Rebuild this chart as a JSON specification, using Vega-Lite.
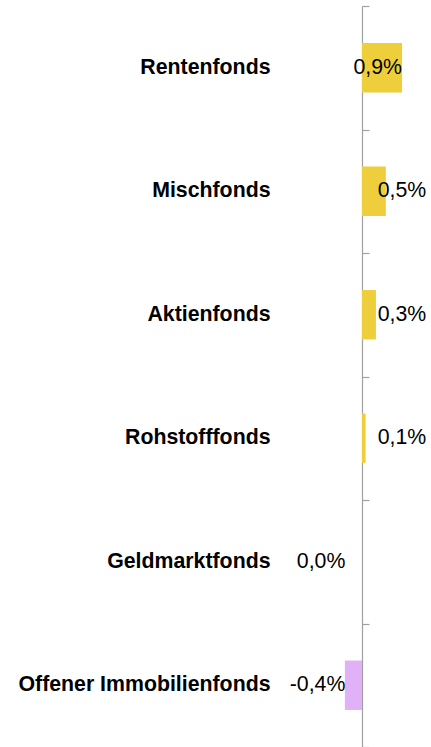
{
  "$schema": "https://vega.github.io/schema/vega-lite/v6.json",
  "autosize": {"type": "none"},
  "padding": {"left": 280, "top": 6, "right": 0, "bottom": 0},
  "width": 151,
  "height": 741,
  "background": "white",
  "data": {
    "values": [
      {"fonds": "Rentenfonds", "value": 0.0089},
      {"fonds": "Mischfonds", "value": 0.0053},
      {"fonds": "Aktienfonds", "value": 0.0031},
      {"fonds": "Rohstofffonds", "value": 0.0008},
      {"fonds": "Geldmarktfonds", "value": 0.0},
      {"fonds": "Offener Immobilienfonds", "value": -0.0038}
    ]
  },
  "layer": [
    {
      "mark": {"type": "text", "opacity": 0},
      "encoding": {
        "y": {
          "field": "fonds",
          "type": "nominal",
          "sort": null,
          "title": null,
          "scale": {"type": "band", "paddingInner": 0, "paddingOuter": 0},
          "axis": {
            "orient": "right",
            "offset": -69,
            "domain": true,
            "domainColor": "#a0a0a0",
            "domainWidth": 1.2,
            "ticks": true,
            "tickBand": "extent",
            "tickSize": 7,
            "tickColor": "#a0a0a0",
            "tickWidth": 1.2,
            "labels": false,
            "title": null
          }
        },
        "x": {"field": "value", "type": "quantitative", "scale": {"domain": [-0.01822, 0.01533], "nice": false, "zero": false}, "axis": null},
        "text": {"value": ""}
      }
    },
    {
      "mark": {"type": "bar"},
      "encoding": {
        "y": {
          "field": "fonds",
          "type": "nominal",
          "sort": null,
          "title": null,
          "scale": {"paddingInner": 0.6, "paddingOuter": 0.3},
          "axis": {
            "orient": "left",
            "offset": -82,
            "domain": false,
            "ticks": false,
            "labelPadding": 92,
            "labelFont": "Liberation Sans",
            "labelFontWeight": "bold",
            "labelFontSize": 21.3,
            "labelColor": "#000000",
            "labelLimit": 400,
            "title": null
          }
        },
        "x": {
          "field": "value",
          "type": "quantitative",
          "scale": {"domain": [-0.01822, 0.01533], "nice": false, "zero": false},
          "axis": null
        },
        "color": {
          "condition": {"test": "datum.value < 0", "value": "#E1B1F7"},
          "value": "#EECF3B"
        }
      }
    },
    {
      "transform": [{"filter": "datum.value <= 0"}],
      "mark": {"type": "text", "align": "right", "baseline": "middle", "font": "Liberation Sans", "fontSize": 21.3, "color": "#000000"},
      "encoding": {
        "y": {"field": "fonds", "type": "nominal", "sort": ["Rentenfonds", "Mischfonds", "Aktienfonds", "Rohstofffonds", "Geldmarktfonds", "Offener Immobilienfonds"], "scale": {"domain": ["Rentenfonds", "Mischfonds", "Aktienfonds", "Rohstofffonds", "Geldmarktfonds", "Offener Immobilienfonds"]}, "axis": null},
        "x": {"datum": -0.0037, "type": "quantitative"},
        "text": {"field": "value", "type": "quantitative", "format": ".1%"}
      }
    },
    {
      "transform": [{"filter": "datum.value > 0 && datum.value < 0.007"}],
      "mark": {"type": "text", "align": "left", "baseline": "middle", "font": "Liberation Sans", "fontSize": 21.3, "color": "#000000"},
      "encoding": {
        "y": {"field": "fonds", "type": "nominal", "sort": ["Rentenfonds", "Mischfonds", "Aktienfonds", "Rohstofffonds", "Geldmarktfonds", "Offener Immobilienfonds"], "scale": {"domain": ["Rentenfonds", "Mischfonds", "Aktienfonds", "Rohstofffonds", "Geldmarktfonds", "Offener Immobilienfonds"]}, "axis": null},
        "x": {"datum": 0.0035, "type": "quantitative"},
        "text": {"field": "value", "type": "quantitative", "format": ".1%"}
      }
    },
    {
      "transform": [{"filter": "datum.value >= 0.007"}],
      "mark": {"type": "text", "align": "right", "baseline": "middle", "font": "Liberation Sans", "fontSize": 21.3, "color": "#000000"},
      "encoding": {
        "y": {"field": "fonds", "type": "nominal", "sort": ["Rentenfonds", "Mischfonds", "Aktienfonds", "Rohstofffonds", "Geldmarktfonds", "Offener Immobilienfonds"], "scale": {"domain": ["Rentenfonds", "Mischfonds", "Aktienfonds", "Rohstofffonds", "Geldmarktfonds", "Offener Immobilienfonds"]}, "axis": null},
        "x": {"field": "value", "type": "quantitative"},
        "text": {"field": "value", "type": "quantitative", "format": ".1%"}
      }
    }
  ],
  "resolve": {"axis": {"y": "independent"}, "scale": {"y": "independent"}},
  "config": {
    "view": {"stroke": null},
    "locale": {
      "number": {"decimal": ",", "thousands": ".", "grouping": [3], "currency": ["", " €"], "minus": "-"}
    }
  }
}
